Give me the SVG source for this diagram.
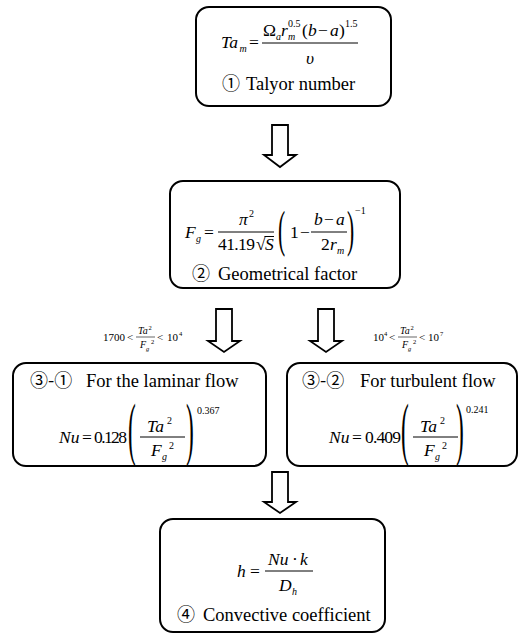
<svg xmlns="http://www.w3.org/2000/svg" width="524" height="637" viewBox="0 0 524 637">
<style>
.box{fill:#fff;stroke:#000;stroke-width:2}
.arr{fill:#fff;stroke:#000;stroke-width:1.8;stroke-linejoin:miter}
text{font-family:"Liberation Serif","Times New Roman","DejaVu Serif",serif;fill:#000}
.cj{font-family:"Noto Sans CJK JP","Liberation Serif",serif;font-size:18px}
.tt{font-size:18.5px}
.f{font-size:17.5px}
.i{font-style:italic}
.s{font-size:10px}
.xs{font-size:6.5px}
.l{font-size:11px}
.bar{stroke:#000;stroke-width:1}
.bs{stroke:#000;stroke-width:0.6}
</style>
<rect width="524" height="637" fill="#fff"/>
<g id="connectors">
<path class="arr" d="M272,125 H288 V155 H296 L280,167 L264,155 H272 Z"/>
<path class="arr" d="M216,309 H232 V341 H240 L224,352 L208,341 H216 Z"/>
<path class="arr" d="M318,309 H334 V341 H342 L326,352 L310,341 H318 Z"/>
<path class="arr" d="M272,472 H288 V502 H296 L280,513 L264,502 H272 Z"/>
<g id="label-laminar">
<text class="l" x="103" y="341">1700</text>
<text class="l" x="127" y="341">&lt;</text>
<text class="s i" x="138" y="334">Ta</text>
<text class="xs" x="148.5" y="330">2</text>
<line class="bs" x1="136" y1="337" x2="155" y2="337"/>
<text class="s i" x="140" y="348">F</text>
<text class="xs i" x="146" y="351">g</text>
<text class="xs" x="151" y="344">2</text>
<text class="l" x="157" y="341">&lt;</text>
<text class="l" x="167" y="341">10</text>
<text class="xs" x="179" y="336">4</text>
</g>
<g id="label-turbulent">
<text class="l" x="373" y="341">10</text>
<text class="xs" x="384" y="336">4</text>
<text class="l" x="389" y="341">&lt;</text>
<text class="s i" x="400" y="334">Ta</text>
<text class="xs" x="410.5" y="330">2</text>
<line class="bs" x1="398" y1="337" x2="417" y2="337"/>
<text class="s i" x="402" y="348">F</text>
<text class="xs i" x="408" y="351">g</text>
<text class="xs" x="413" y="344">2</text>
<text class="l" x="419" y="341">&lt;</text>
<text class="l" x="428" y="341">10</text>
<text class="xs" x="440" y="336">7</text>
</g>
</g>
<g id="node1">
<rect class="box" x="196" y="7" width="195" height="99" rx="13"/>
<text class="f i" x="221" y="48">Ta</text>
<text class="s i" x="239.5" y="52">m</text>
<text class="f" x="249" y="48">=</text>
<text class="f" x="263" y="36">Ω</text>
<text class="s i" x="276" y="40">a</text>
<text class="f i" x="281" y="36">r</text>
<text class="s" x="288" y="27">0.5</text>
<text class="s i" x="288" y="40">m</text>
<text class="f" x="302" y="36">(</text>
<text class="f i" x="308" y="36">b</text>
<text class="f" x="318" y="36">−</text>
<text class="f i" x="330" y="36">a</text>
<text class="f" x="339" y="36">)</text>
<text class="s" x="345" y="27">1.5</text>
<line class="bar" x1="262" y1="43" x2="358" y2="43"/>
<text class="f i" x="310" y="64" text-anchor="middle">υ</text>
<text class="cj" x="222" y="90">①</text>
<text class="tt" x="246" y="90">Talyor number</text>
</g>
<g id="node2">
<rect class="box" x="170" y="181" width="230" height="107" rx="13"/>
<text class="f i" x="185" y="238">F</text>
<text class="s i" x="196" y="242">g</text>
<text class="f" x="204" y="238">=</text>
<text class="f i" x="239" y="225">π</text>
<text class="s" x="249" y="217">2</text>
<line class="bar" x1="218" y1="232" x2="274" y2="232"/>
<text class="f" x="218" y="250" textLength="37">41.19</text>
<text class="f" x="256" y="250">√</text>
<line class="bar" x1="264.5" y1="236.5" x2="274" y2="236.5"/>
<text class="f i" x="265" y="250">S</text>
<text style="font-size:18px" transform="translate(278,246) scale(1.2,2.8)">(</text>
<text class="f" x="290" y="238">1</text>
<text class="f" x="300" y="238">−</text>
<text class="f i" x="314" y="225">b</text>
<text class="f" x="324" y="225">−</text>
<text class="f i" x="336" y="225">a</text>
<line class="bar" x1="311" y1="232" x2="347" y2="232"/>
<text class="f" x="321" y="250">2</text>
<text class="f i" x="330" y="250">r</text>
<text class="s i" x="337" y="254">m</text>
<text style="font-size:18px" transform="translate(347,246) scale(1.2,2.8)">)</text>
<text class="s" x="355" y="214">−1</text>
<text class="cj" x="192" y="280">②</text>
<text class="tt" x="218" y="280">Geometrical factor</text>
</g>
<g id="node3-1">
<rect class="box" x="13" y="363" width="253" height="103" rx="13"/>
<text class="cj" x="30" y="387">③-①</text>
<text class="tt" x="86" y="387">For the laminar flow</text>
<text class="f i" x="59" y="443">Nu</text>
<text class="f" x="82" y="443">=</text>
<text class="f" x="94" y="443" textLength="33">0.128</text>
<text style="font-size:18px" transform="translate(128,452) scale(1.3,3.9)">(</text>
<text class="f i" x="147" y="432">Ta</text>
<text class="s" x="167" y="424">2</text>
<line class="bar" x1="140" y1="437" x2="185" y2="437"/>
<text class="f i" x="151" y="456">F</text>
<text class="s i" x="162" y="460">g</text>
<text class="s" x="169" y="449">2</text>
<text style="font-size:18px" transform="translate(186,452) scale(1.3,3.9)">)</text>
<text class="s" x="197" y="414">0.367</text>
</g>
<g id="node3-2">
<rect class="box" x="287" y="363" width="230" height="103" rx="13"/>
<text class="cj" x="302" y="387">③-②</text>
<text class="tt" x="360" y="387">For turbulent flow</text>
<g transform="translate(270,0)">
<text class="f i" x="59" y="443">Nu</text>
<text class="f" x="82" y="443">=</text>
<text class="f" x="95" y="443" textLength="36">0.409</text>
<text style="font-size:18px" transform="translate(131,452) scale(1.3,3.9)">(</text>
<text class="f i" x="150" y="432">Ta</text>
<text class="s" x="170" y="424">2</text>
<line class="bar" x1="143" y1="437" x2="188" y2="437"/>
<text class="f i" x="154" y="456">F</text>
<text class="s i" x="165" y="460">g</text>
<text class="s" x="172" y="449">2</text>
<text style="font-size:18px" transform="translate(186,452) scale(1.3,3.9)">)</text>
<text class="s" x="196" y="413">0.241</text>
</g>
</g>
<g id="node4">
<rect class="box" x="160" y="519" width="225" height="113" rx="13"/>
<text class="f i" x="237" y="577">h</text>
<text class="f" x="250" y="577">=</text>
<text class="f i" x="268" y="565">Nu</text>
<text class="f" x="292" y="565">·</text>
<text class="f i" x="300" y="565">k</text>
<line class="bar" x1="265" y1="571" x2="313" y2="571"/>
<text class="f i" x="279" y="591">D</text>
<text class="s i" x="292" y="595">h</text>
<text class="cj" x="177" y="621">④</text>
<text class="tt" x="203" y="621">Convective coefficient</text>
</g>
</svg>
